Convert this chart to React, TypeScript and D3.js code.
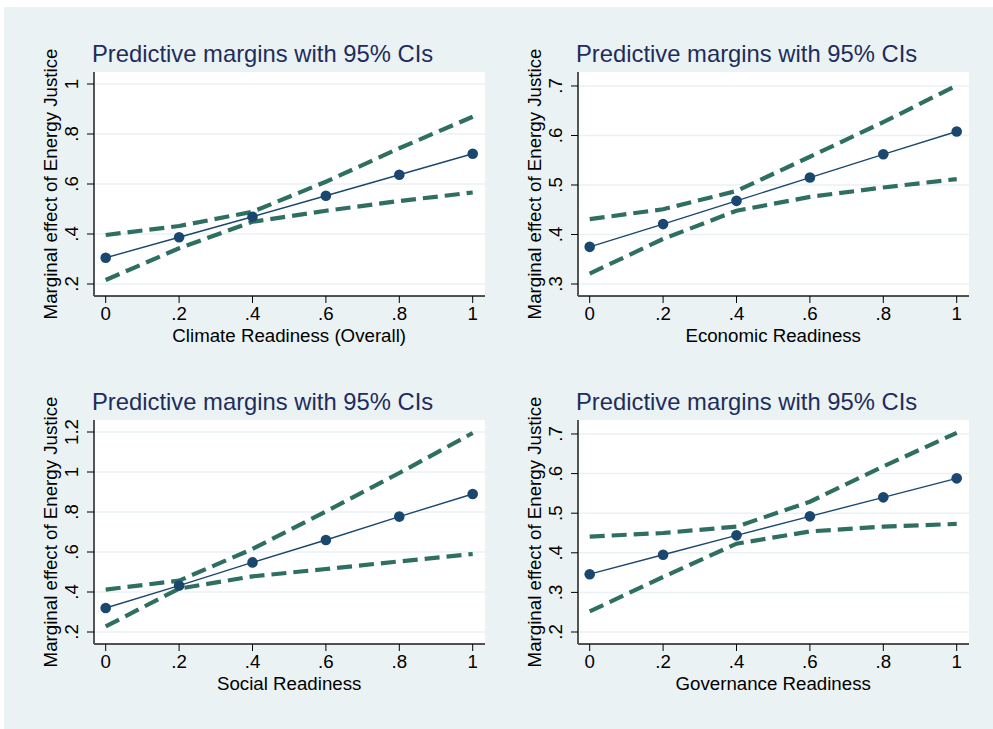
import React, { useEffect, useRef } from "react";
import * as d3 from "d3";

const width = 993;
const height = 729;

const xLevels = [0, 0.2, 0.4, 0.6, 0.8, 1];
const xTickLabels = ["0", ".2", ".4", ".6", ".8", "1"];

const panelTitle = "Predictive margins with 95% CIs";
const yTitle = "Marginal effect of Energy Justice";
const xTitles = [
  "Climate Readiness (Overall)",
  "Economic Readiness",
  "Social Readiness",
  "Governance Readiness",
];

// predicted margins + 95% CI bounds
const climateMargin = [0.305, 0.387, 0.469, 0.553, 0.637, 0.721];
const climateUpper = [0.396, 0.432, 0.489, 0.609, 0.743, 0.869];
const climateLower = [0.216, 0.343, 0.449, 0.493, 0.532, 0.566];

const economicMargin = [0.375, 0.421, 0.468, 0.515, 0.562, 0.608];
const economicUpper = [0.431, 0.451, 0.488, 0.557, 0.627, 0.701];
const economicLower = [0.321, 0.391, 0.448, 0.476, 0.495, 0.512];

const socialMargin = [0.32, 0.432, 0.548, 0.66, 0.777, 0.89];
const socialUpper = [0.412, 0.457, 0.615, 0.803, 0.995, 1.195];
const socialLower = [0.228, 0.417, 0.478, 0.515, 0.553, 0.59];

const governanceMargin = [0.346, 0.395, 0.444, 0.492, 0.54, 0.588];
const governanceUpper = [0.441, 0.45, 0.466, 0.529, 0.618, 0.703];
const governanceLower = [0.252, 0.339, 0.423, 0.454, 0.466, 0.473];

const climateYTicks = [0.2, 0.4, 0.6, 0.8, 1];
const climateYLabels = [".2", ".4", ".6", ".8", "1"];
const economicYTicks = [0.3, 0.4, 0.5, 0.6, 0.7];
const economicYLabels = [".3", ".4", ".5", ".6", ".7"];
const socialYTicks = [0.2, 0.4, 0.6, 0.8, 1, 1.2];
const socialYLabels = [".2", ".4", ".6", ".8", "1", "1.2"];
const governanceYTicks = [0.2, 0.3, 0.4, 0.5, 0.6, 0.7];
const governanceYLabels = [".2", ".3", ".4", ".5", ".6", ".7"];

// y axis extent per panel (min, max)
const yRanges = [
  [0.2, 1],
  [0.3, 0.704],
  [0.2, 1.2],
  [0.2, 0.705],
];

const panels = [
  { margin: climateMargin, upper: climateUpper, lower: climateLower, ticks: climateYTicks, labels: climateYLabels },
  { margin: economicMargin, upper: economicUpper, lower: economicLower, ticks: economicYTicks, labels: economicYLabels },
  { margin: socialMargin, upper: socialUpper, lower: socialLower, ticks: socialYTicks, labels: socialYLabels },
  { margin: governanceMargin, upper: governanceUpper, lower: governanceLower, ticks: governanceYTicks, labels: governanceYLabels },
];

const font = "'Liberation Sans', Arial, Helvetica, sans-serif";
const bgColor = "#eaf2f3";
const navy = "#1a476f";
const ciColor = "#2e6f61";
const titleColor = "#1e2d5c";

const plotW = 391;
const plotH = 224;
const lefts = [94, 578];
const tops = [72, 420];

const App = () => {
  const ref = useRef(null);

  useEffect(() => {
    drawChart();
  }, []);

  const drawChart = () => {
    const svg = d3.select(ref.current);
    svg.selectAll("*").remove();

    svg
      .append("rect")
      .attr("x", 4)
      .attr("y", 7)
      .attr("width", width - 4)
      .attr("height", height - 7)
      .style("fill", bgColor);

    panels.forEach((p, i) => {
      const left = lefts[i % 2];
      const top = tops[Math.floor(i / 2)];
      const right = left + plotW;
      const bottom = top + plotH;

      const x = d3.scaleLinear().domain([0, 1]).range([left + 11.7, right - 12.3]);
      const y = d3.scaleLinear().domain(yRanges[i]).range([bottom - 12, top + 12]);

      const g = svg.append("g");

      // plot region
      g.append("rect")
        .attr("x", left)
        .attr("y", top)
        .attr("width", plotW)
        .attr("height", plotH)
        .style("fill", "#ffffff");

      // gridlines
      g.selectAll(".grid")
        .data(p.ticks)
        .join("line")
        .attr("x1", left)
        .attr("x2", right)
        .attr("y1", (d) => y(d))
        .attr("y2", (d) => y(d))
        .style("stroke", bgColor)
        .style("stroke-width", 1.5);

      // axes
      g.append("line")
        .attr("x1", left)
        .attr("x2", right)
        .attr("y1", bottom)
        .attr("y2", bottom)
        .style("stroke", "#1a1a1a")
        .style("stroke-width", 1.5);
      g.append("line")
        .attr("x1", left)
        .attr("x2", left)
        .attr("y1", top)
        .attr("y2", bottom)
        .style("stroke", "#555555")
        .style("stroke-width", 2);

      // y ticks + labels
      g.selectAll(".ytick")
        .data(p.ticks)
        .join("line")
        .attr("x1", left - 7)
        .attr("x2", left)
        .attr("y1", (d) => y(d))
        .attr("y2", (d) => y(d))
        .style("stroke", "#000")
        .style("stroke-width", 1);
      g.selectAll(".ylabel")
        .data(p.ticks)
        .join("text")
        .attr("transform", (d) => `translate(${left - 16.5}, ${y(d)}) rotate(-90)`)
        .style("text-anchor", "middle")
        .style("font-family", font)
        .style("font-size", "18.7px")
        .style("fill", "#000")
        .text((d, j) => p.labels[j]);

      // x ticks + labels
      g.selectAll(".xtick")
        .data(xLevels)
        .join("line")
        .attr("x1", (d) => x(d))
        .attr("x2", (d) => x(d))
        .attr("y1", bottom)
        .attr("y2", bottom + 7)
        .style("stroke", "#000")
        .style("stroke-width", 1);
      g.selectAll(".xlabel")
        .data(xLevels)
        .join("text")
        .attr("x", (d) => x(d))
        .attr("y", bottom + 24)
        .style("text-anchor", "middle")
        .style("font-family", font)
        .style("font-size", "18.7px")
        .style("fill", "#000")
        .text((d, j) => xTickLabels[j]);

      // titles
      g.append("text")
        .attr("x", left - 2)
        .attr("y", top - 10)
        .style("font-family", font)
        .style("font-size", "23.8px")
        .style("fill", titleColor)
        .text(panelTitle);
      g.append("text")
        .attr("x", (x(0) + x(1)) / 2)
        .attr("y", bottom + 46)
        .style("text-anchor", "middle")
        .style("font-family", font)
        .style("font-size", "18.7px")
        .style("fill", "#000")
        .text(xTitles[i]);
      g.append("text")
        .attr("transform", `translate(${left - 37}, ${(top + bottom) / 2}) rotate(-90)`)
        .style("text-anchor", "middle")
        .style("font-family", font)
        .style("font-size", "18.7px")
        .style("fill", "#000")
        .text(yTitle);

      // CI lines
      const line = d3
        .line()
        .x((d, j) => x(xLevels[j]))
        .y((d) => y(d));

      [p.upper, p.lower].forEach((ci) => {
        g.append("path")
          .datum(ci)
          .attr("d", line)
          .style("fill", "none")
          .style("stroke", ciColor)
          .style("stroke-width", 4.2)
          .style("stroke-dasharray", "15,7");
      });

      // margins line + markers
      g.append("path")
        .datum(p.margin)
        .attr("d", line)
        .style("fill", "none")
        .style("stroke", navy)
        .style("stroke-width", 1.4);
      g.selectAll(".pt")
        .data(p.margin)
        .join("circle")
        .attr("cx", (d, j) => x(xLevels[j]))
        .attr("cy", (d) => y(d))
        .attr("r", 5.3)
        .style("fill", navy);
    });
  };

  return (
    <svg
      ref={ref}
      width={width}
      height={height}
      style={{ position: "absolute", left: 0, top: 0, background: "#fff" }}
    />
  );
};

export default App;
